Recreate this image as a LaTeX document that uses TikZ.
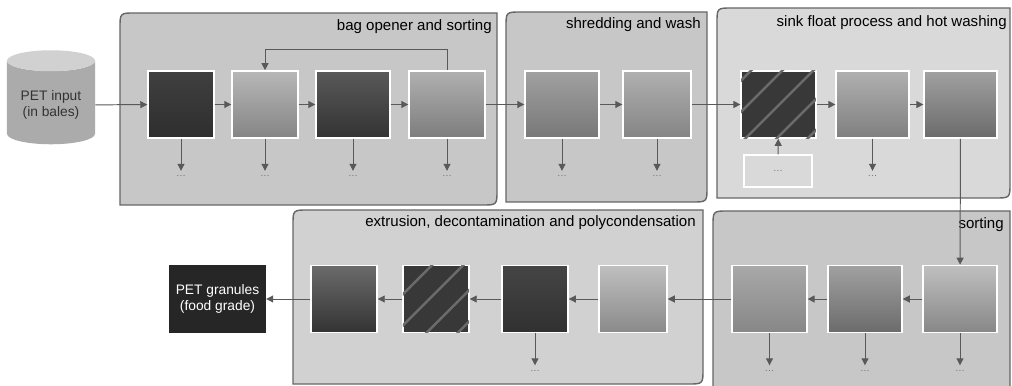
\documentclass[tikz,border=0pt]{standalone}
\usepackage{fontspec}
\setmainfont{Liberation Sans}
\usetikzlibrary{arrows.meta,positioning,shapes.geometric,patterns.meta}

\begin{document}
\begin{tikzpicture}[x=0.025cm,y=-0.025cm,>={Triangle[length=5pt,width=5pt]},
  grp/.style={draw=black!60,line width=1pt},
  sq/.style={draw=white,line width=1pt,minimum height=1.68cm,minimum width=#1,inner sep=0pt},
  sq/.default=1.7cm,
  flow/.style={draw=black!65,line width=0.7pt,->},
  dots/.style={font=\scriptsize,text=black!55,minimum height=0.25cm,inner sep=0pt},
  stripes/.style={fill=black!78,postaction={pattern={Lines[angle=45,distance=0.55cm,line width=1.8pt]},pattern color=black!58}},
  title/.style={anchor=east,font=\fontsize{10.7}{12}\selectfont,inner sep=0pt},
  label/.style={align=center,font=\fontsize{9.8}{11.5}\selectfont}]
  \clip (0,0) rectangle (1012,386);
  % Stage boxes
  \draw[grp,fill=black!22] (120,205) -- (120,28) .. controls (120,13) .. (135,13) -- (497,13) -- (497,190) .. controls (497,205) .. (482,205) -- cycle;
  \draw[grp,fill=black!22] (506,202) -- (506,27) .. controls (506,12) .. (521,12) -- (707,12) -- (707,187) .. controls (707,202) .. (692,202) -- cycle;
  \draw[grp,fill=black!15] (717,198) -- (717,23) .. controls (717,8) .. (732,8) -- (1010,8) -- (1010,183) .. controls (1010,198) .. (995,198) -- cycle;
  \draw[grp,fill=black!18] (293,384) -- (293,225) .. controls (293,210) .. (308,210) -- (703,210) -- (703,369) .. controls (703,384) .. (688,384) -- cycle;
  \draw[grp,fill=black!22] (713,400) -- (713,226) .. controls (713,211) .. (728,211) -- (1010,211) -- (1010,400) -- cycle;
  \node[title] (tbag) at (492,27) {bag opener and sorting};
  \node[title] (tshred) at (701,25) {shredding and wash};
  \node[title] (tsink) at (1007,23) {sink float process and hot washing};
  \node[title] (text) at (696,223) {extrusion, decontamination and polycondensation};
  \node[title] (tsort) at (1004,225) {sorting};
  % Input and output
  \node[label,cylinder,shape border rotate=90,aspect=0.3,minimum width=2.2cm,minimum height=2.35cm,
    cylinder uses custom fill,cylinder body fill=black!33,cylinder end fill=black!18,text=black!80] (pet) at (51,105) {PET input\\(in bales)};
  \node[label,fill=black!85,minimum width=2.42cm,minimum height=1.7cm,text=white] (out) at (217.5,299) {PET granules\\(food grade)};
  % Top row
  \node[sq=1.65cm,top color=black!75,bottom color=black!82] (s1) at (181,104.5) {};
  \node[sq=1.65cm,top color=black!28,bottom color=black!48] (s2) at (265,104.5) {};
  \node[sq=1.85cm,top color=black!65,bottom color=black!80] (s3) at (353,104.5) {};
  \node[sq=1.9cm,top color=black!31,bottom color=black!51] (s4) at (447,104.5) {};
  \node[sq=1.85cm,top color=black!37,bottom color=black!53] (s5) at (562,104.5) {};
  \node[sq=1.7cm,top color=black!31,bottom color=black!48] (s6) at (657,104.5) {};
  \node[sq=1.87cm,stripes] (s7) at (778.5,104.5) {};
  \node[sq=1.82cm,top color=black!31,bottom color=black!50] (s8) at (872.5,104.5) {};
  \node[sq=1.82cm,top color=black!37,bottom color=black!58] (s9) at (960.5,104.5) {};
  \node[draw=white,line width=1pt,fill=black!15,minimum width=1.7cm,minimum height=0.8cm,font=\scriptsize,text=black!55] (feed) at (778,171) {\ldots};
  % Bottom row
  \node[sq=1.85cm,top color=black!25,bottom color=black!47] (t3) at (960,299) {};
  \node[sq=1.85cm,top color=black!37,bottom color=black!58] (t2) at (865,299) {};
  \node[sq=1.87cm,top color=black!34,bottom color=black!47] (t1) at (769.5,299) {};
  \node[sq=1.7cm,top color=black!25,bottom color=black!46] (e4) at (633,299) {};
  \node[sq=1.65cm,top color=black!73,bottom color=black!81] (e3) at (535,299) {};
  \node[sq=1.65cm,stripes] (e2) at (436,299) {};
  \node[sq=1.65cm,top color=black!58,bottom color=black!80] (e1) at (344,299) {};
  % Flow
  \draw[flow] (pet) -- (s1);
  \draw[flow] (s1) -- (s2);
  \draw[flow] (s2) -- (s3);
  \draw[flow] (s3) -- (s4);
  \draw[flow] (s4) -- (s5);
  \draw[flow] (s5) -- (s6);
  \draw[flow] (s6) -- (s7);
  \draw[flow] (s7) -- (s8);
  \draw[flow] (s8) -- (s9);
  \draw[flow] (s9) -- (t3);
  \draw[flow] (t3) -- (t2);
  \draw[flow] (t2) -- (t1);
  \draw[flow] (t1) -- (e4);
  \draw[flow] (e4) -- (e3);
  \draw[flow] (e3) -- (e2);
  \draw[flow] (e2) -- (e1);
  \draw[flow] (e1) -- (out);
  \draw[flow] (feed) -- (s7);
  \draw[flow] (s4.north) -- ++(0,-21) -| (s2.north);
  % Side outputs
  \foreach \s in {s1,s2,s3,s4,s5,s6,s8,t1,t2,t3,e3} {
    \node[dots,below=0.8cm of \s] (d\s) {\ldots};
    \draw[flow] (\s) -- (d\s);
  }
\end{tikzpicture}
\end{document}
